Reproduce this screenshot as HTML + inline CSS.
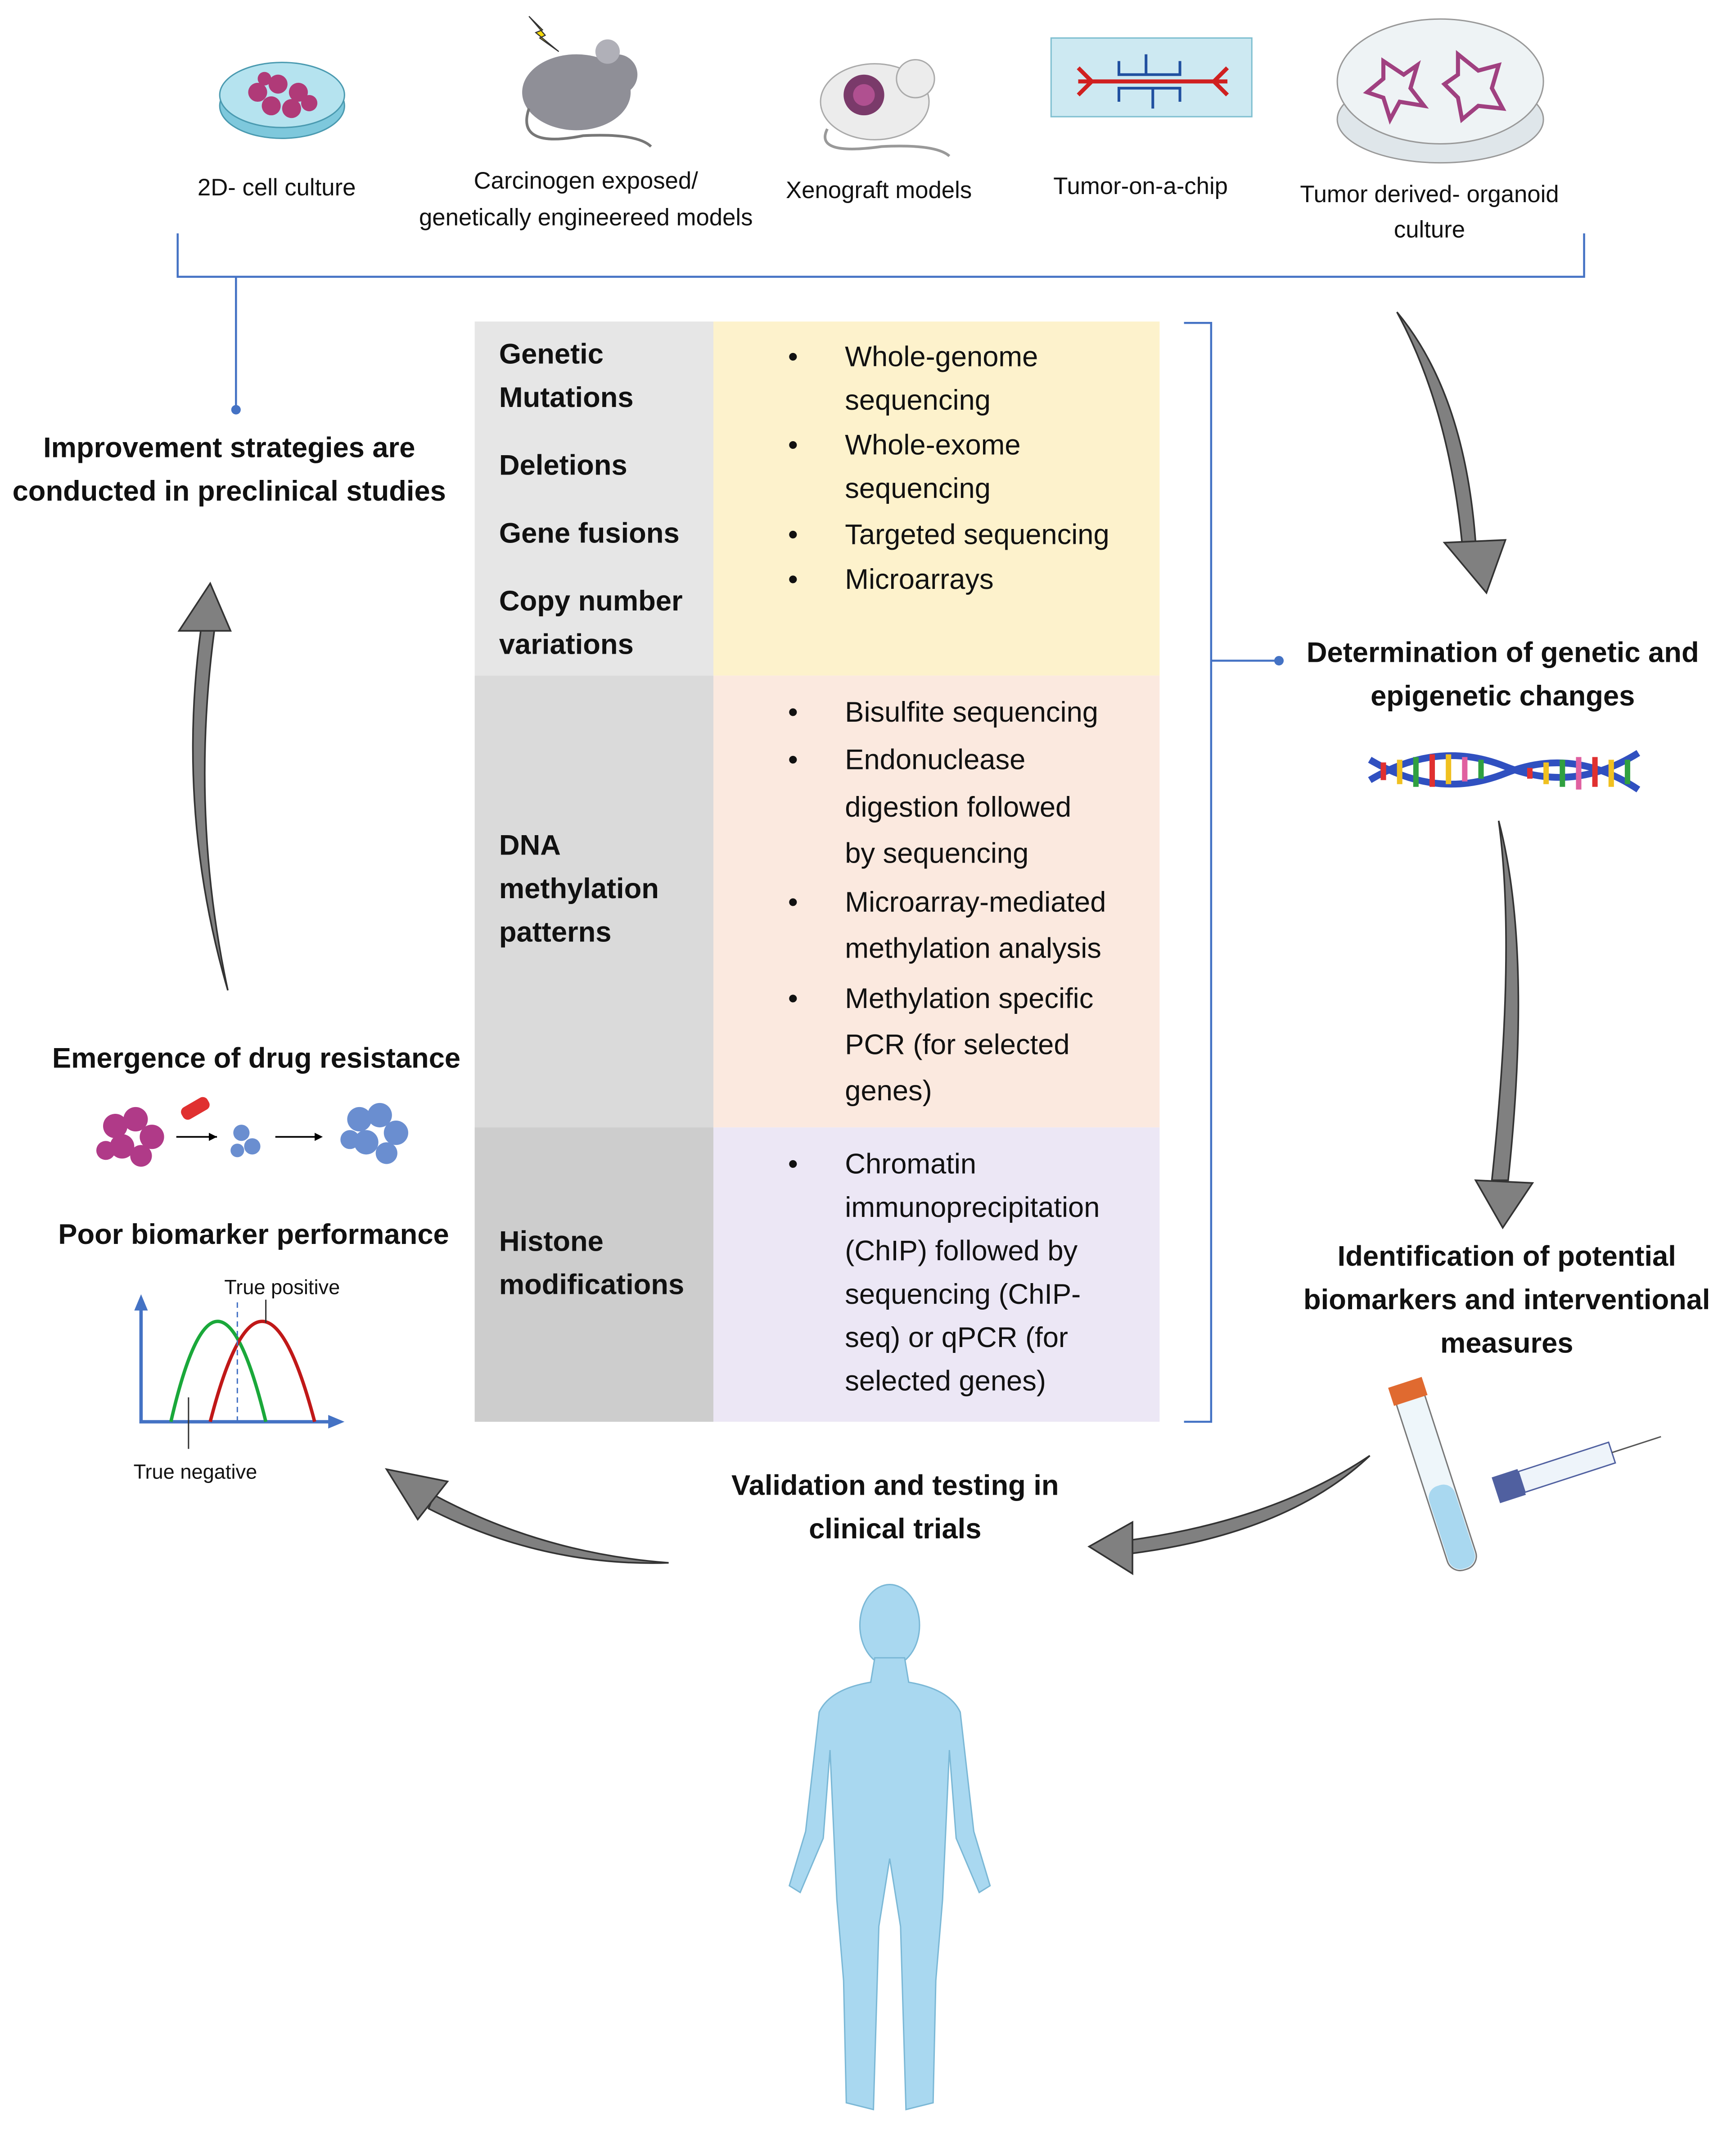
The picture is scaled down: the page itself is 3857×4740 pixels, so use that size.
<!DOCTYPE html>
<html><head><meta charset="utf-8"><style>
html,body{margin:0;padding:0;background:#fff;}
svg{display:block;}
text{font-family:"Liberation Sans",sans-serif;fill:#111;}
.b{font-weight:bold;font-size:21px;}
.n{font-size:21px;}
.s{font-size:17.5px;}
</style></head><body>
<svg width="3857" height="4740" viewBox="0 0 1280 1573" xmlns="http://www.w3.org/2000/svg">
<!-- top icons -->
<ellipse cx="208" cy="78" rx="46" ry="24" fill="#7ec8dc" stroke="#4a9ab0"/>
<ellipse cx="208" cy="70" rx="46" ry="24" fill="#b5e3ef" stroke="#4a9ab0"/>
<g fill="#b03a78"><circle cx="190" cy="68" r="7"/><circle cx="205" cy="62" r="7"/><circle cx="220" cy="68" r="7"/><circle cx="200" cy="78" r="7"/><circle cx="215" cy="80" r="7"/><circle cx="228" cy="76" r="6"/><circle cx="195" cy="58" r="5"/></g>
<ellipse cx="425" cy="68" rx="40" ry="28" fill="#8f8f97"/><circle cx="455" cy="55" r="15" fill="#8f8f97"/><circle cx="448" cy="38" r="9" fill="#b0b0b8"/>
<path d="M390 80 Q380 110 430 100 Q470 98 480 108" stroke="#777" fill="none" stroke-width="2"/>
<polygon points="390,12 400,22 395,24 412,38 398,28 402,26" fill="#f5d90a" stroke="#333" stroke-width="0.8"/>
<ellipse cx="645" cy="75" rx="40" ry="28" fill="#ececec" stroke="#aaa"/><circle cx="675" cy="58" r="14" fill="#ececec" stroke="#aaa"/><circle cx="637" cy="70" r="15" fill="#7a3a6a"/><circle cx="637" cy="70" r="8" fill="#b05090"/>
<path d="M610 95 Q600 115 650 108 Q690 106 700 115" stroke="#999" fill="none" stroke-width="2"/>
<rect x="775" y="28" width="148" height="58" fill="#cde9f2" stroke="#7fbfd0"/>
<g stroke="#d02020" stroke-width="3" fill="none"><path d="M795 60 L905 60 M795 50 L805 60 L795 70 M905 50 L895 60 L905 70"/></g>
<g stroke="#2050a0" stroke-width="2" fill="none"><path d="M825 45 L825 55 L870 55 L870 45 M825 75 L825 65 L870 65 L870 75 M845 40 L845 55 M850 80 L850 65"/></g>
<ellipse cx="1062" cy="88" rx="76" ry="32" fill="#dfe6ea" stroke="#999"/>
<ellipse cx="1062" cy="60" rx="76" ry="46" fill="#eef3f5" stroke="#999"/>
<path d="M1020 45 L1035 55 L1045 48 L1040 65 L1050 78 L1032 75 L1025 88 L1020 72 L1008 68 L1020 58Z" fill="none" stroke="#a04080" stroke-width="3"/>
<path d="M1075 40 L1090 52 L1105 48 L1100 65 L1108 80 L1090 78 L1078 88 L1075 72 L1065 62 L1075 55Z" fill="none" stroke="#a04080" stroke-width="3"/>
<g class="s" text-anchor="middle">
<text x="204" y="144" class="s">2D- cell culture</text>
<text x="432" y="139" class="s">Carcinogen exposed/</text>
<text x="432" y="166" class="s">genetically engineereed models</text>
<text x="648" y="146" class="s">Xenograft models</text>
<text x="841" y="143" class="s">Tumor-on-a-chip</text>
<text x="1054" y="149" class="s">Tumor derived- organoid</text>
<text x="1054" y="175" class="s">culture</text>
</g>
<!-- bracket -->
<g stroke="#4472c4" stroke-width="1.5" fill="none">
<path d="M131 172 V204 H1168 V172"/>
<path d="M174 204 V302"/>
<path d="M873 238 H893 V1048 H873"/>
<path d="M893 487 H943"/>
</g>
<circle cx="174" cy="302" r="3.5" fill="#4472c4"/><circle cx="943" cy="487" r="3.5" fill="#4472c4"/>
<text x="169" y="337" class="b" text-anchor="middle">Improvement strategies are</text>
<text x="169" y="369" class="b" text-anchor="middle">conducted in preclinical studies</text>
<!-- table -->
<rect x="350" y="237" width="176" height="261" fill="#e6e6e6"/>
<rect x="350" y="498" width="176" height="333" fill="#dadada"/>
<rect x="350" y="831" width="176" height="217" fill="#cdcdcd"/>
<rect x="526" y="237" width="329" height="261" fill="#fdf2cc"/>
<rect x="526" y="498" width="329" height="333" fill="#fbe9df"/>
<rect x="526" y="831" width="329" height="217" fill="#ece7f5"/>
<g class="b">
<text x="368" y="268">Genetic</text><text x="368" y="300">Mutations</text>
<text x="368" y="350">Deletions</text><text x="368" y="400">Gene fusions</text>
<text x="368" y="450">Copy number</text><text x="368" y="482">variations</text>
<text x="368" y="630">DNA</text><text x="368" y="662">methylation</text><text x="368" y="694">patterns</text>
<text x="368" y="922">Histone</text><text x="368" y="954">modifications</text>
</g>
<g class="n">
<text x="581" y="270">•</text><text x="623" y="270">Whole-genome</text><text x="623" y="302">sequencing</text>
<text x="581" y="335">•</text><text x="623" y="335">Whole-exome</text><text x="623" y="367">sequencing</text>
<text x="581" y="401">•</text><text x="623" y="401">Targeted sequencing</text>
<text x="581" y="434">•</text><text x="623" y="434">Microarrays</text>
<text x="581" y="532">•</text><text x="623" y="532">Bisulfite sequencing</text>
<text x="581" y="567">•</text><text x="623" y="567">Endonuclease</text><text x="623" y="602">digestion followed</text><text x="623" y="636">by sequencing</text>
<text x="581" y="672">•</text><text x="623" y="672">Microarray-mediated</text><text x="623" y="706">methylation analysis</text>
<text x="581" y="743">•</text><text x="623" y="743">Methylation specific</text><text x="623" y="777">PCR (for selected</text><text x="623" y="811">genes)</text>
<text x="581" y="865">•</text><text x="623" y="865">Chromatin</text><text x="623" y="897">immunoprecipitation</text><text x="623" y="929">(ChIP) followed by</text><text x="623" y="961">sequencing (ChIP-</text><text x="623" y="993">seq) or qPCR (for</text><text x="623" y="1025">selected genes)</text>
</g>
<!-- right texts -->
<g class="b" text-anchor="middle">
<text x="1108" y="488">Determination of genetic and</text>
<text x="1108" y="520">epigenetic changes</text>
<text x="1111" y="933">Identification of potential</text>
<text x="1111" y="965">biomarkers and interventional</text>
<text x="1111" y="997">measures</text>
<text x="660" y="1102">Validation and testing in</text>
<text x="660" y="1134">clinical trials</text>
<text x="189" y="787">Emergence of drug resistance</text>
<text x="187" y="917">Poor biomarker performance</text>
</g>
<!-- DNA -->
<path d="M1010 575 Q1060 545 1110 565 Q1160 585 1208 555" stroke="#3050c0" stroke-width="5" fill="none"/>
<path d="M1010 560 Q1060 590 1110 570 Q1160 550 1208 582" stroke="#3050c0" stroke-width="5" fill="none"/>
<g stroke-width="4">
<line x1="1020" y1="562" x2="1020" y2="575" stroke="#e03030"/><line x1="1032" y1="560" x2="1032" y2="578" stroke="#f0c020"/><line x1="1044" y1="558" x2="1044" y2="580" stroke="#30a040"/><line x1="1056" y1="556" x2="1056" y2="580" stroke="#e03030"/><line x1="1068" y1="556" x2="1068" y2="578" stroke="#f0c020"/><line x1="1080" y1="558" x2="1080" y2="576" stroke="#e060a0"/><line x1="1092" y1="560" x2="1092" y2="574" stroke="#30a040"/><line x1="1128" y1="566" x2="1128" y2="574" stroke="#e03030"/><line x1="1140" y1="562" x2="1140" y2="578" stroke="#f0c020"/><line x1="1152" y1="560" x2="1152" y2="580" stroke="#30a040"/><line x1="1164" y1="558" x2="1164" y2="582" stroke="#e060a0"/><line x1="1176" y1="558" x2="1176" y2="580" stroke="#e03030"/><line x1="1188" y1="560" x2="1188" y2="580" stroke="#f0c020"/><line x1="1200" y1="560" x2="1200" y2="578" stroke="#30a040"/>
</g>
<!-- gray arrows -->
<g fill="#808080" stroke="#333" stroke-width="1.2">
<path d="M1030 230 Q1080 290 1088 400 L1078 400 Q1068 300 1030 230Z"/><polygon points="1065,400 1110,398 1096,437"/>
<path d="M1105 605 Q1130 700 1112 870 L1100 870 Q1118 700 1105 605Z"/><polygon points="1088,870 1130,872 1108,905"/>
<path d="M1010 1073 Q940 1120 835 1135 L835 1145 Q950 1130 1010 1073Z"/><polygon points="835,1122 835,1160 803,1140"/>
<path d="M493 1152 Q400 1145 320 1102 L316 1112 Q400 1155 493 1152Z"/><polygon points="308,1120 330,1092 285,1083"/>
<path d="M168 730 Q130 600 148 465 L158 465 Q140 600 168 730Z"/><polygon points="132,465 170,465 155,430"/>
</g>
<!-- tube & syringe -->
<g transform="rotate(-18 1060 1090)"><rect x="1048" y="1020" width="22" height="140" rx="10" fill="#eef6fa" stroke="#777"/><rect x="1049" y="1095" width="20" height="64" rx="9" fill="#a9d8f0"/><rect x="1046" y="1015" width="26" height="14" fill="#e06a30"/></g>
<g transform="rotate(-18 1160 1080)"><rect x="1120" y="1072" width="70" height="16" fill="#eef4fa" stroke="#5060a0"/><rect x="1100" y="1070" width="20" height="20" fill="#5060a0"/><line x1="1190" y1="1080" x2="1228" y2="1080" stroke="#555"/></g>
<!-- human -->
<g fill="#a9d8f0" stroke="#7bb8d6" stroke-width="1">
<ellipse cx="656" cy="1198" rx="22" ry="30"/>
<path d="M645 1222 L667 1222 L670 1240 Q700 1245 708 1262 L718 1350 L730 1390 L722 1395 L705 1355 L700 1290 L695 1400 L690 1460 L688 1550 L668 1555 L664 1420 L656 1370 L648 1420 L644 1555 L624 1550 L622 1460 L617 1400 L612 1290 L607 1355 L590 1395 L582 1390 L594 1350 L604 1262 Q612 1245 642 1240Z"/>
</g>
<!-- drug resistance icons -->
<g fill="#b03a88"><circle cx="85" cy="830" r="9"/><circle cx="100" cy="825" r="9"/><circle cx="112" cy="838" r="9"/><circle cx="90" cy="845" r="9"/><circle cx="104" cy="852" r="8"/><circle cx="78" cy="848" r="7"/></g>
<rect x="133" y="812" width="22" height="10" rx="4" fill="#e03030" transform="rotate(-30 144 817)"/>
<g fill="#6a8ed0"><circle cx="178" cy="835" r="6"/><circle cx="186" cy="845" r="6"/><circle cx="175" cy="848" r="5"/>
<circle cx="265" cy="825" r="9"/><circle cx="280" cy="822" r="9"/><circle cx="292" cy="835" r="9"/><circle cx="270" cy="842" r="9"/><circle cx="285" cy="850" r="8"/><circle cx="258" cy="840" r="7"/></g>
<g stroke="#000" stroke-width="1.2"><line x1="130" y1="838" x2="160" y2="838"/><line x1="203" y1="838" x2="233" y2="838"/></g>
<polygon points="160,838 154,835 154,841"/><polygon points="238,838 232,835 232,841"/>
<!-- graph -->
<g stroke="#4472c4" stroke-width="2.5" fill="none"><path d="M104 960 V1048 H248"/></g>
<polygon points="104,954 99,966 109,966" fill="#4472c4"/><polygon points="254,1048 242,1043 242,1053" fill="#4472c4"/>
<path d="M126 1048 Q160 900 196 1048" stroke="#1aa83a" stroke-width="2.5" fill="none"/>
<path d="M155 1048 Q193 900 232 1048" stroke="#c01818" stroke-width="2.5" fill="none"/>
<line x1="175" y1="960" x2="175" y2="1048" stroke="#4472c4" stroke-dasharray="4,3"/>
<line x1="196" y1="958" x2="196" y2="975" stroke="#333"/><line x1="139" y1="1030" x2="139" y2="1068" stroke="#333"/>
<text x="208" y="954" font-size="15" text-anchor="middle">True positive</text>
<text x="144" y="1090" font-size="15" text-anchor="middle">True negative</text>
</svg>
</body></html>
